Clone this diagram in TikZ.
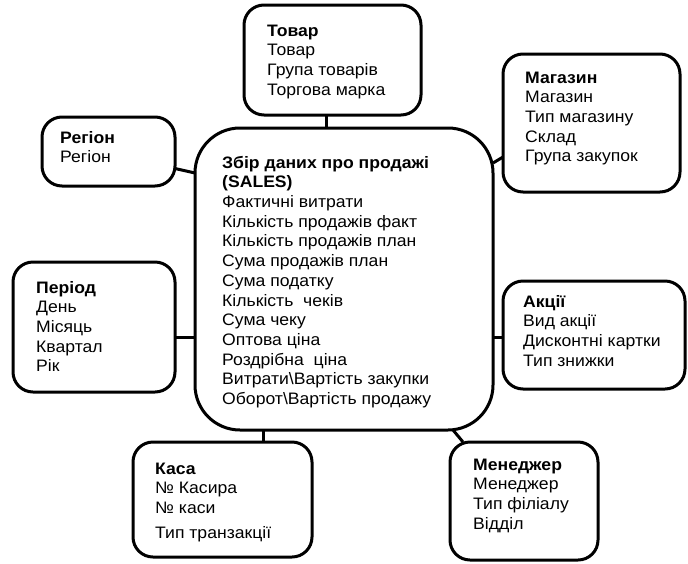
\documentclass[tikz,border=0pt]{standalone}
\usepackage{fontspec}
\setmainfont{Liberation Sans}[FakeStretch=1.06]
\begin{document}
\begin{tikzpicture}[x=1pt,y=-1pt,
  box/.style={draw, line width=3pt, rounded corners=20pt, inner sep=0pt, outer sep=0pt},
  txt/.style={anchor=north west, inner sep=0pt, align=left, font=\fontsize{16.6}{19.7}\selectfont},
  link/.style={line width=3pt}]
\useasboundingbox (0,0) rectangle (688,563);

% boxes
\node[box, minimum width=177pt, minimum height=110pt] (tovar) at (332.5,60) {};
\node[box, rounded corners=45pt, minimum width=298pt, minimum height=302pt] (central) at (344,279) {};
\node[box, minimum width=177pt, minimum height=138pt] (magazin) at (591.5,123) {};
\node[box, minimum width=133pt, minimum height=69pt] (region) at (108.5,151.5) {};
\node[box, minimum width=162pt, minimum height=130pt] (period) at (94,327) {};
\node[box, minimum width=182pt, minimum height=108pt] (akcii) at (594,335) {};
\node[box, minimum width=179pt, minimum height=115pt] (kasa) at (222.5,499.5) {};
\node[box, minimum width=148pt, minimum height=118pt] (men) at (524,501) {};

% connectors
\draw[link] ([xshift=-6.5pt]tovar.south) -- ([xshift=-6.5pt]tovar.south |- central.north);
\draw[link] ([yshift=-17pt]region.east) -- ([yshift=106pt]central.west);
\draw[link] ([yshift=-10pt]period.east) -- ([yshift=-10pt]period.east -| central.west);
\draw[link] ([yshift=-34pt]magazin.west) -- ([yshift=116pt]central.east);
\draw[link] ([yshift=-2pt]akcii.west) -- ([yshift=-2pt]akcii.west -| central.east);
\draw[link] ([xshift=40.5pt]kasa.north) -- ([xshift=40.5pt]kasa.north |- central.south);
\draw[link] ([xshift=13pt]men.north west) -- ([xshift=-40pt]central.south east);

% texts
\node[txt] (ttovar) at (267,22.2) {\strut\textbf{Товар}\\Товар\\Група товарів\\Торгова марка};
\node[txt] (tmagazin) at (525,69.2) {\strut\textbf{Магазин}\\Магазин\\Тип магазину\\Склад\\Група закупок};
\node[txt] (tregion) at (60,129.2) {\strut\textbf{Регіон}\\Регіон};
\node[txt] (tcentral) at (222,154.2) {\strut\textbf{Збір даних про продажі}\\\textbf{(SALES)}\\Фактичні витрати\\Кількість продажів факт\\Кількість продажів план\\Сума продажів план\\Сума податку\\Кількість\ \ чеків\\Сума чеку\\Оптова ціна\\Роздрібна\ \ ціна\\Витрати\textbackslash Вартість закупки\\Оборот\textbackslash Вартість продажу};
\node[txt] (tperiod) at (36,279.2) {\strut\textbf{Період}\\День\\Місяць\\Квартал\\Рік};
\node[txt] (takcii) at (523,293.2) {\strut\textbf{Акції}\\Вид акції\\Дисконтні картки\\Тип знижки};
\node[txt] (tkasa) at (155,460.2) {\strut\textbf{Каса}\\№ Касира\\№ каси\\[5pt]Тип транзакції};
\node[txt] (tmen) at (473,456.2) {\strut\textbf{Менеджер}\\Менеджер\\Тип філіалу\\Відділ};
\end{tikzpicture}
\end{document}
